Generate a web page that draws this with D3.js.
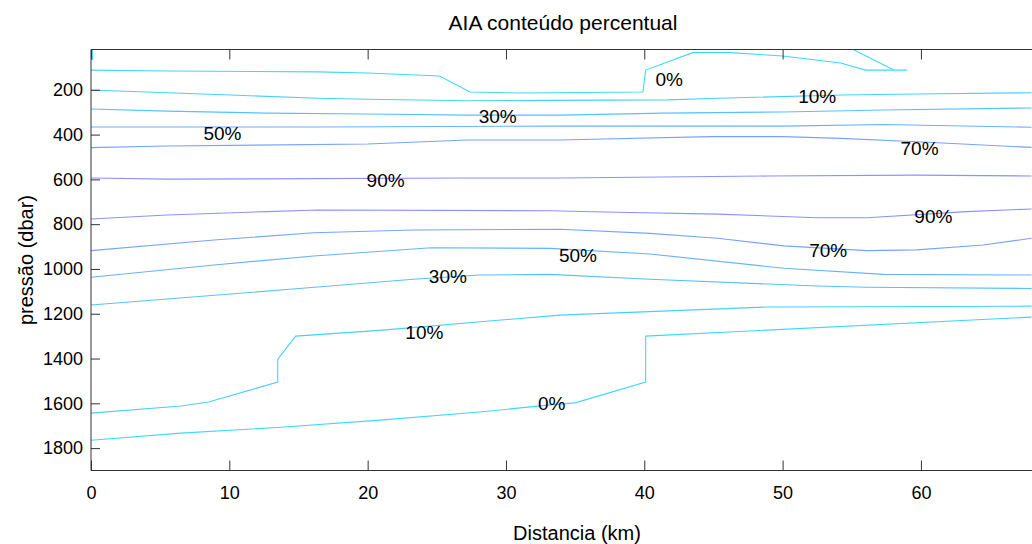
<!DOCTYPE html>
<html>
<head>
<meta charset="utf-8">
<script src="https://cdn.jsdelivr.net/npm/d3@7"></script>
<style>
  body { margin: 0; background: #fff; }
  svg text { font-family: "Liberation Sans", Arial, Helvetica, sans-serif; fill: #000; }
</style>
</head>
<body>
<svg id="chart" width="1032" height="544"></svg>
<script>
// contour levels (percent)
let levels = [0, 10, 30, 50, 70, 90];

// contour lines: [distance km, pressure dbar]
let lines = [
  { level: 0,  pts: [[0.1,20],[0.1,67]] },
  { level: 0,  pts: [[0,112],[5.5,116],[16.4,120],[20,125],[25.2,138],[27.4,210],[30.8,214],[39.9,210],[40.1,112],[43.5,34],[46.2,34],[50,49],[54.2,80],[56,112],[59,112]] },
  { level: 0,  pts: [[55.1,20],[58,110]] },
  { level: 10, pts: [[0,201],[5.5,213],[10.1,223],[16.4,238],[20,242],[27.2,249],[33.2,247],[41.7,245],[45.3,238],[54.2,223],[59.7,219],[68,213]] },
  { level: 30, pts: [[0,286],[5.5,295],[12.7,304],[20,308],[27.2,313],[33.9,313],[41.4,304],[50,299],[57.3,290],[68,281]] },
  { level: 50, pts: [[0,366],[16.4,366],[33.9,362],[50,362],[57.3,355],[68,367]] },
  { level: 70, pts: [[0,458],[5.5,451],[20,442],[27.2,424],[33.9,424],[44.8,409],[50,409],[54.2,417],[59.7,432],[68,457]] },
  { level: 90, pts: [[0,594],[5.5,599],[27.2,594],[33.9,594],[48.9,585],[59.7,581],[68,585]] },
  { level: 90, pts: [[0,777],[5.5,759],[12.7,744],[16.4,737],[33.2,740],[38,747],[45.3,755],[52.5,771],[56.1,771],[63.3,744],[68,732]] },
  { level: 70, pts: [[0,918],[8.9,871],[16.1,838],[23.3,826],[33.9,823],[40.4,841],[45.3,863],[50.1,897],[56.1,918],[59.7,915],[64.5,893],[68,863]] },
  { level: 50, pts: [[0,1037],[8.9,982],[16.1,942],[24.6,905],[33.2,908],[40.4,933],[50.1,997],[57.3,1024],[68,1027]] },
  { level: 30, pts: [[0,1161],[13.7,1094],[23.3,1046],[28.1,1027],[33.2,1024],[40.4,1046],[52.5,1076],[56.1,1082],[68,1087]] },
  { level: 10, pts: [[0,1644],[6.5,1612],[8.5,1594],[13.5,1505],[13.5,1403],[14.8,1300],[21.1,1273],[33.9,1206],[48.9,1170],[68,1166]] },
  { level: 0,  pts: [[0,1765],[6.5,1733],[13.7,1707],[20.9,1675],[28.1,1639],[33.2,1607],[35,1598],[40.1,1505],[40.1,1300],[68,1215]] }
];

// contour labels
let labelKm    = [41.8, 52.5, 29.4, 9.5, 59.9, 21.3, 60.9, 53.3, 35.2, 25.8, 24.1, 33.3];
let labelP     = [152, 232, 317, 393, 464, 607, 764, 916, 938, 1032, 1282, 1603];
let labelLevel = [0, 10, 30, 50, 70, 90, 90, 70, 50, 30, 10, 0];

let xTicks = [0, 10, 20, 30, 40, 50, 60];
let yTicks = [200, 400, 600, 800, 1000, 1200, 1400, 1600, 1800];

let width = 1032, height = 544;
let mLeft = 91, mRight = 1032, mTop = 49.5, mBottom = 470.5;

let svg = d3.select('#chart');

let x = d3.scaleLinear().domain([0, 68.03]).range([mLeft, mRight]);
let y = d3.scaleLinear().domain([20, 1900]).range([mTop, mBottom]);

let color = d3.scaleLinear()
    .domain([0, 90])
    .range(['#3ed8ff', '#8794ff'])
    .interpolate(d3.interpolateRgb);

svg.append('clipPath').attr('id', 'plotclip')
  .append('rect')
    .attr('x', mLeft).attr('y', mTop)
    .attr('width', mRight - mLeft).attr('height', mBottom - mTop);

let line = d3.line().x(d => x(d[0])).y(d => y(d[1]));

svg.append('g')
    .attr('clip-path', 'url(#plotclip)')
  .selectAll('path')
  .data(lines)
  .join('path')
    .attr('fill', 'none')
    .attr('stroke', d => color(d.level))
    .attr('stroke-width', 1.1)
    .attr('d', d => line(d.pts));

// axes
let axisColor = '#333';

let gx = svg.append('g')
    .attr('transform', `translate(0,${mBottom})`)
    .call(d3.axisBottom(x).tickValues(xTicks).tickSizeInner(-10).tickSizeOuter(0).tickPadding(16));

let gxTop = svg.append('g')
    .attr('transform', `translate(0,${mTop})`)
    .call(d3.axisTop(x).tickValues(xTicks).tickSizeInner(-10).tickSizeOuter(0).tickFormat(''));

let gy = svg.append('g')
    .attr('transform', `translate(${mLeft},0)`)
    .call(d3.axisLeft(y).tickValues(yTicks).tickFormat(d3.format('d'))
      .tickSizeInner(-9).tickSizeOuter(0).tickPadding(8));

[gx, gxTop, gy].forEach(g => {
  g.select('.domain').remove();
  g.selectAll('line').attr('stroke', axisColor);
  g.selectAll('text').attr('font-size', 18).attr('fill', '#000')
    .style('font-family', '"Liberation Sans", Arial, sans-serif');
});

// frame (right edge falls outside the picture)
svg.append('path')
    .attr('fill', 'none')
    .attr('stroke', axisColor)
    .attr('stroke-width', 1)
    .attr('d', `M${mRight + 5},${mTop}H${mLeft}V${mBottom}H${mRight + 5}`);

// contour labels
svg.append('g')
  .selectAll('text')
  .data(labelLevel)
  .join('text')
    .attr('x', (d, i) => x(labelKm[i]))
    .attr('y', (d, i) => y(labelP[i]))
    .attr('text-anchor', 'middle')
    .attr('dominant-baseline', 'central')
    .attr('font-size', 19)
    .text(d => d + '%');

// titles
svg.append('text')
    .attr('x', 563)
    .attr('y', 22)
    .attr('text-anchor', 'middle')
    .attr('dominant-baseline', 'central')
    .attr('font-size', 21)
    .text('AIA conteúdo percentual');

svg.append('text')
    .attr('x', 577)
    .attr('y', 533)
    .attr('text-anchor', 'middle')
    .attr('dominant-baseline', 'central')
    .attr('font-size', 20)
    .text('Distancia (km)');

svg.append('text')
    .attr('transform', `translate(26,${(mTop + mBottom) / 2}) rotate(-90)`)
    .attr('text-anchor', 'middle')
    .attr('dominant-baseline', 'central')
    .attr('font-size', 20)
    .text('pressão (dbar)');
</script>
</body>
</html>
